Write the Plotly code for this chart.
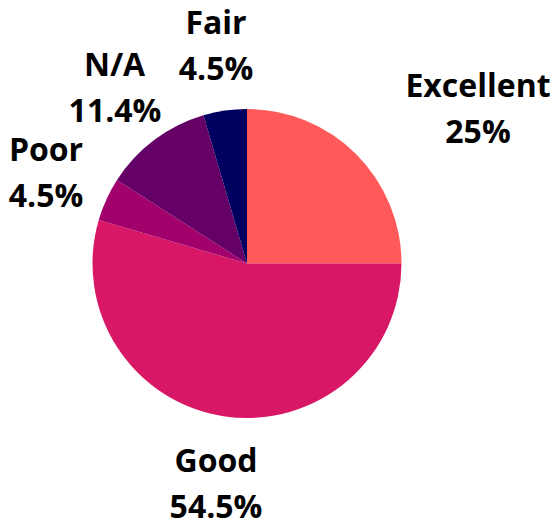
import math
import plotly.graph_objects as go

labels = ["Excellent", "Good", "Poor", "N/A", "Fair"]
counts = [11, 24, 2, 5, 2]
colors = ["#FF5959", "#D81866", "#A2006B", "#640066", "#000060"]

W, H = 552, 523
CX, CY, R = 247, 263.5, 154.5      # pie centre / radius in pixels
LABEL_R = 221                      # distance of label centres from pie centre
FONT = dict(family="Open Sans", size=32, color="black", weight="bold")
HALF_GAP = 23                      # half spacing between the two label lines
BOX_W = 146                        # label box width (lines centred inside)

total = sum(counts)


def fmt(v):
    p = round(100 * v / total, 1)
    s = f"{p:.1f}"
    if s.endswith(".0"):
        s = s[:-2]
    return s + "%"


fig = go.Figure(go.Pie(
    labels=labels,
    values=counts,
    textinfo="none",
    sort=False,
    direction="clockwise",
    rotation=0,
    marker=dict(colors=colors, line=dict(width=0)),
    showlegend=False,
    hoverinfo="label+percent",
    domain=dict(x=[(CX - R) / W, (CX + R) / W],
                y=[(H - CY - R) / H, (H - CY + R) / H]),
))

# label annotations positioned at the mid-angle of each slice
annotations = []
cum = 0
for lab, v in zip(labels, counts):
    mid = (cum + v / 2) / total * 2 * math.pi
    cum += v
    s, c = math.sin(mid), math.cos(mid)
    px = CX + LABEL_R * s
    py = CY - LABEL_R * c
    xanchor = "left" if s > 0.5 else "center"
    for txt, shift in ((lab, HALF_GAP), (fmt(v), -HALF_GAP)):
        annotations.append(dict(
            x=px / W, y=1 - py / H, xref="paper", yref="paper",
            text=txt, showarrow=False, xanchor=xanchor, yanchor="middle",
            yshift=shift, font=FONT, align="center", width=BOX_W,
        ))

fig.update_layout(
    width=W, height=H,
    margin=dict(l=0, r=0, t=0, b=0),
    paper_bgcolor="white",
    plot_bgcolor="white",
    annotations=annotations,
)
fig.write_html("out.html", config={"displayModeBar": False},
               post_script="document.body.style.margin='0';")
